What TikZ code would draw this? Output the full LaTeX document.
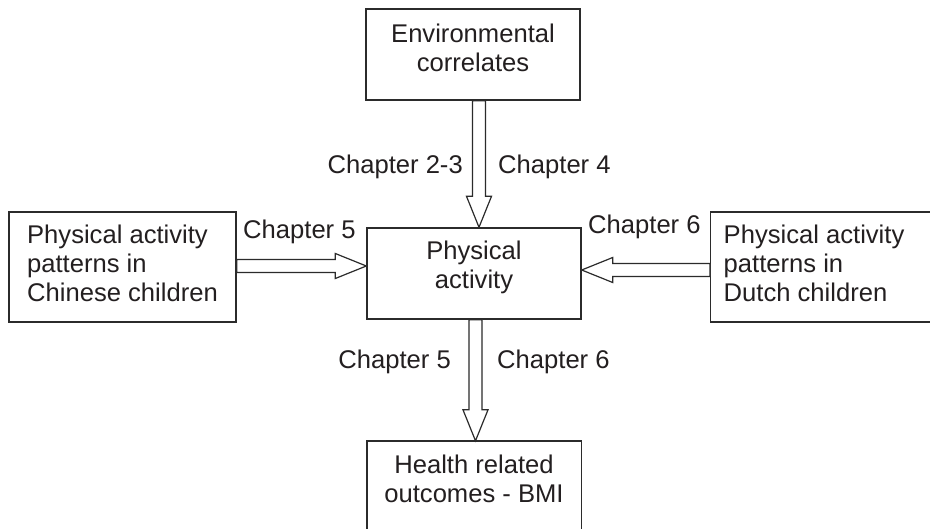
\documentclass[tikz,border=0pt]{standalone}
\usepackage{fontspec}
\setmainfont{Liberation Sans}
\usetikzlibrary{calc}

\definecolor{ink}{HTML}{231F20}
\definecolor{rulecol}{HTML}{2B2B2B}

% stacked lines, optionally lifted without changing the box size
\newcommand\cstack[2][0pt]{\raisebox{#1}[\height][\depth]{\begin{tabular}{@{}c@{}}#2\end{tabular}}}
\newcommand\lstack[1]{\begin{tabular}{@{}l@{}}#1\end{tabular}}

% hollow block arrow from #1 to #2
\newcommand\blockarrow[2]{%
  \draw[arrowline] let \p1=(#1), \p2=(#2),
      \n1={atan2(\y2-\y1,\x2-\x1)}, \n2={veclen(\x2-\x1,\y2-\y1)} in
    [shift={(\p1)}, rotate=\n1]
    (0pt,-6.5pt) -- (\n2-31pt,-6.5pt) -- (\n2-31pt,-12.5pt) -- (\n2,0pt)
    -- (\n2-31pt,12.5pt) -- (\n2-31pt,6.5pt) -- (0pt,6.5pt) -- cycle;}

\tikzset{
  txt/.style={font=\fontsize{25.6}{29}\selectfont, text=ink},
  box/.style={txt, draw=rulecol, line width=1.4pt, inner sep=0pt,
              minimum width=214pt, minimum height=91pt},
  sidebox/.style={txt, draw=rulecol, line width=1.4pt, inner sep=0pt,
              minimum height=110pt},
  arrowline/.style={draw=rulecol, fill=white, line width=1.2pt, line join=miter},
  chap/.style={txt, inner sep=0pt},
}

\begin{document}
\begin{tikzpicture}[x=1pt, y=-1pt]
  \clip (0,0) rectangle (930,528);
  \fill[white] (0,0) rectangle (930,528);

  % boxes
  \node[box] (env) at (473,54.5) {\cstack[3pt]{Environmental\\correlates}};
  \node[box] (pa) at (474,273.5) {\cstack[5pt]{Physical\\activity}};
  \node[sidebox, minimum width=227pt] (cn) at (122.5,267)
    {\lstack{Physical activity\\patterns in\\Chinese children}};
  \node[sidebox, anchor=west, inner xsep=13pt] (nl) at (710,267)
    {\makebox[205pt][l]{\lstack{Physical activity\\patterns in\\Dutch children}}};
  \node[txt, inner sep=0pt, minimum width=214pt, minimum height=82pt] (health) at (474,482)
    {\cstack{Health related\\outcomes - BMI}};
  \draw[rulecol, line width=1.4pt]
    ([yshift=-100pt]health.north west) -- (health.north west)
    -- (health.north east) -- ([yshift=-100pt]health.north east);

  % connector end points
  \coordinate (tstart) at ([xshift=6pt]env.south);
  \coordinate (lstart) at ([yshift=1pt]cn.east);
  \coordinate (rstart) at ([yshift=-3pt]nl.west);
  \coordinate (bstart) at ([xshift=1.5pt]pa.south);

  % block arrows
  \blockarrow{tstart}{tstart |- pa.north}
  \blockarrow{lstart}{pa.west |- lstart}
  \blockarrow{rstart}{pa.east |- rstart}
  \blockarrow{bstart}{bstart |- health.north}

  % chapter labels
  \node[chap, anchor=base east] (c23) at (463,173) {Chapter 2-3};
  \node[chap, anchor=base west] (c4)  at (498,173) {Chapter 4};
  \node[chap, anchor=base west] (c5a) at (243,238) {Chapter 5};
  \node[chap, anchor=base west] (c6a) at (588,233) {Chapter 6};
  \node[chap, anchor=base east] (c5b) at (451,368) {Chapter 5};
  \node[chap, anchor=base west] (c6b) at (497,368) {Chapter 6};
\end{tikzpicture}
\end{document}
